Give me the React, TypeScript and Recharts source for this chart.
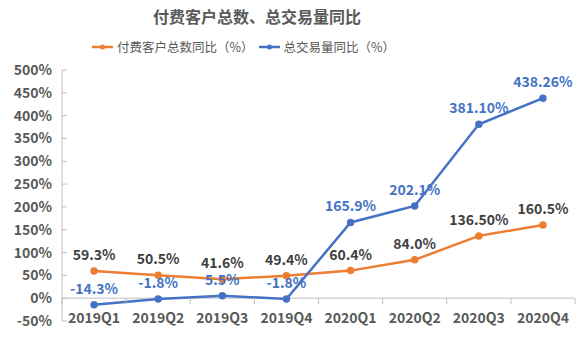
import { LineChart, Line, XAxis, YAxis, ReferenceLine, LabelList, Legend } from "recharts";

const quarters = ["2019Q1", "2019Q2", "2019Q3", "2019Q4", "2020Q1", "2020Q2", "2020Q3", "2020Q4"];
const customerYoY = [59.3, 50.5, 41.6, 49.4, 60.4, 84.0, 136.5, 160.5];
const customerLabels = ["59.3%", "50.5%", "41.6%", "49.4%", "60.4%", "84.0%", "136.50%", "160.5%"];
const volumeYoY = [-14.3, -1.8, 5.5, -1.8, 165.9, 202.1, 381.1, 438.26];
const volumeLabels = ["-14.3%", "-1.8%", "5.5%", "-1.8%", "165.9%", "202.1%", "381.10%", "438.26%"];
const yTicks = [-50, 0, 50, 100, 150, 200, 250, 300, 350, 400, 450, 500];

const FONT = '"Noto Sans CJK SC", "Noto Sans", sans-serif';
const ORANGE = "#ED7D31";
const BLUE = "#4472C4";
const AXIS = "#BFBFBF";
const TEXT = "#595959";

const PLOT_TOP = 70;
const PLOT_BOTTOM = 321;
const Y_MIN = -50;
const Y_MAX = 500;

const data = quarters.map((q, i) => ({
  q,
  customer: customerYoY[i],
  customerLabel: customerLabels[i],
  volume: volumeYoY[i],
  volumeLabel: volumeLabels[i],
}));

function XTick(props: any) {
  const { x, y, payload, index } = props;
  const half = payload.offset || 0;
  const zeroY = y - ((0 - Y_MIN) / (Y_MAX - Y_MIN)) * (PLOT_BOTTOM - PLOT_TOP);
  return (
    <g>
      <line x1={x - half} x2={x - half} y1={zeroY} y2={zeroY + 6} stroke={AXIS} />
      {index === quarters.length - 1 && (
        <line x1={x + half} x2={x + half} y1={zeroY} y2={zeroY + 6} stroke={AXIS} />
      )}
      <text x={x} y={y + 2} textAnchor="middle" fill={TEXT} fontSize={14} fontWeight="bold" fontFamily={FONT}>
        {payload.value}
      </text>
    </g>
  );
}

function YTick(props: any) {
  const { x, y, payload } = props;
  return (
    <g>
      <line x1={x} x2={x + 5} y1={y} y2={y} stroke={AXIS} />
      <text x={x - 10} y={y} dy={5} textAnchor="end" fill={TEXT} fontSize={14} fontWeight="bold" fontFamily={FONT}>
        {payload.value}%
      </text>
    </g>
  );
}

function LegendContent(props: any) {
  const { payload } = props;
  return (
    <div style={{ display: "flex", alignItems: "center", fontFamily: FONT, fontSize: 12.5, color: TEXT, whiteSpace: "nowrap" }}>
      {(payload || []).map((p: any) => (
        <div key={p.value} style={{ display: "flex", alignItems: "center", marginRight: 5 }}>
          <svg width={21} height={8} style={{ marginRight: 4 }}>
            <line x1={0} x2={21} y1={4} y2={4} stroke={p.color} strokeWidth={2.5} />
            <circle cx={10.5} cy={4} r={2.5} fill={p.color} />
          </svg>
          <span>{p.value}</span>
        </div>
      ))}
    </div>
  );
}

export default function App() {
  return (
    <div style={{ position: "absolute", left: 0, top: 0, width: 587, height: 337, background: "#fff" }}>
      <div
        style={{
          position: "absolute",
          left: 0,
          top: 4,
          width: 514,
          textAlign: "center",
          fontFamily: FONT,
          fontSize: 16,
          fontWeight: "bold",
          color: TEXT,
        }}
      >
        付费客户总数、总交易量同比
      </div>
      <LineChart
        width={587}
        height={337}
        data={data}
        margin={{ top: PLOT_TOP, right: 12, bottom: 337 - PLOT_BOTTOM - 1, left: 0 }}
      >
        <Legend
          verticalAlign="middle"
          align="center"
          layout="horizontal"
          content={<LegendContent />}
          wrapperStyle={{ top: 37, left: 92, width: "auto" }}
        />
        <XAxis
          dataKey="q"
          scale="band"
          axisLine={false}
          tickLine={false}
          tickSize={0}
          tickMargin={0}
          height={1}
          interval={0}
          tick={<XTick />}
        />
        <YAxis
          domain={[Y_MIN, Y_MAX]}
          ticks={yTicks}
          interval={0}
          width={62}
          axisLine={{ stroke: AXIS }}
          tickLine={false}
          tickSize={0}
          tickMargin={0}
          tick={<YTick />}
        />
        <ReferenceLine y={0} stroke={AXIS} />
        <Line
          name="付费客户总数同比（%）"
          dataKey="customer"
          type="linear"
          stroke={ORANGE}
          strokeWidth={2.5}
          dot={{ r: 2.5, fill: ORANGE, stroke: ORANGE }}
          isAnimationActive={false}
        >
          <LabelList dataKey="customerLabel" position="top" offset={11} fill="#404040" fontSize={14} fontWeight="bold" fontFamily={FONT} />
        </Line>
        <Line
          name="总交易量同比（%）"
          dataKey="volume"
          type="linear"
          stroke={BLUE}
          strokeWidth={2.5}
          dot={{ r: 2.5, fill: BLUE, stroke: BLUE }}
          isAnimationActive={false}
        >
          <LabelList dataKey="volumeLabel" position="top" offset={11} fill={BLUE} fontSize={14} fontWeight="bold" fontFamily={FONT} />
        </Line>
      </LineChart>
    </div>
  );
}
